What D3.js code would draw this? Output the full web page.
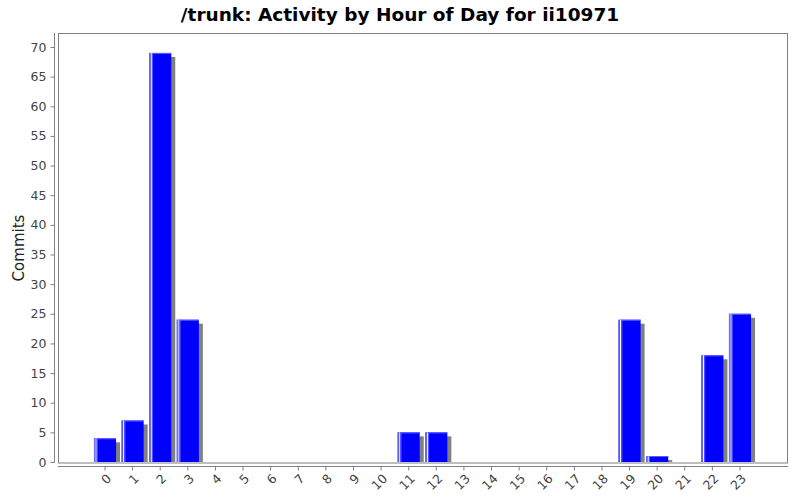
<!DOCTYPE html>
<html><head><meta charset="utf-8">
<script src="https://cdn.jsdelivr.net/npm/d3@7"></script>
<style>body{margin:0;background:#fff;} svg{display:block;}</style>
</head><body>
<svg id="c" width="800" height="500"></svg>
<script>
const hours = d3.range(0, 24).map(String);
const commits = [4, 7, 69, 24, 0, 0, 0, 0, 0, 0, 0, 5, 5, 0, 0, 0, 0, 0, 0, 24, 1, 0, 18, 25];
const yTicks = [0, 5, 10, 15, 20, 25, 30, 35, 40, 45, 50, 55, 60, 65, 70];
const titleText = "/trunk: Activity by Hour of Day for ii10971";
const yLabel = "Commits";

const svg = d3.select("#c");
const font = "DejaVu Sans, sans-serif";
const plot = {l: 58, r: 788, t: 33, b: 462.5};

const x = d3.scaleBand().domain(hours).range([91.2, 753.8]).paddingInner(0.2).paddingOuter(0.1);
const y = d3.scaleLinear().domain([0, 70]).range([462, 47]);

svg.append("text").attr("x", 400).attr("y", 21).attr("text-anchor", "middle")
  .attr("font-family", font).attr("font-weight", "bold").attr("font-size", 18.5).attr("fill", "#000")
  .text(titleText);

// plot frame
svg.append("rect").attr("x", plot.l + 0.5).attr("y", plot.t + 0.5)
  .attr("width", plot.r - plot.l - 1).attr("height", plot.b - plot.t)
  .attr("fill", "#fff").attr("stroke", "#808080").attr("stroke-width", 1);

// bars
const g = svg.append("g");
const data = hours.map((h, i) => ({h, v: commits[i]})).filter(d => d.v > 0);
const bw = x.bandwidth();
g.selectAll("rect.sh").data(data).join("rect").attr("class", "sh")
  .attr("x", d => x(d.h) + 4).attr("y", d => y(d.v) + 4)
  .attr("width", bw).attr("height", d => Math.max(0, y(0) - y(d.v) - 4))
  .attr("fill", "#808080");
g.selectAll("rect.bar").data(data).join("rect").attr("class", "bar")
  .attr("x", d => x(d.h)).attr("y", d => y(d.v))
  .attr("width", bw).attr("height", d => y(0) - y(d.v))
  .attr("fill", "#0000ff");
g.selectAll("rect.hl1").data(data).join("rect").attr("class", "hl1")
  .attr("x", d => x(d.h)).attr("y", d => y(d.v))
  .attr("width", 1.2).attr("height", d => y(0) - y(d.v))
  .attr("fill", "#7070ff");
g.selectAll("rect.hl2").data(data).join("rect").attr("class", "hl2")
  .attr("x", d => x(d.h) + 1.5).attr("y", d => y(d.v))
  .attr("width", 1.2).attr("height", d => y(0) - y(d.v))
  .attr("fill", "#ffffff");
g.selectAll("rect.hl3").data(data).join("rect").attr("class", "hl3")
  .attr("x", d => x(d.h) + 2.7).attr("y", d => y(d.v))
  .attr("width", 1.2).attr("height", d => y(0) - y(d.v))
  .attr("fill", "#5050ff");
g.selectAll("rect.hl4").data(data).join("rect").attr("class", "hl4")
  .attr("x", d => x(d.h) + 2.7).attr("y", d => y(d.v))
  .attr("width", bw - 2.7).attr("height", 1)
  .attr("fill", "#6060ff");

// y axis
const yAxis = d3.axisLeft(y).tickValues(yTicks).tickSize(4).tickPadding(4);
const ya = svg.append("g").attr("transform", "translate(54.5,0)").call(yAxis);
ya.select(".domain").attr("stroke", "#808080").attr("d", `M0,${plot.t}V${plot.b}`);
ya.selectAll(".tick line").attr("stroke", "#808080");
ya.selectAll(".tick text").attr("font-family", font).attr("font-size", 12.5).attr("fill", "#444");

// x axis
const xAxis = d3.axisBottom(x).tickSize(4).tickPadding(2).tickSizeOuter(0);
const xa = svg.append("g").attr("transform", "translate(0,466.5)").call(xAxis);
xa.select(".domain").attr("stroke", "#808080").attr("d", `M${plot.l},0H${plot.r}`);
xa.selectAll(".tick line").attr("stroke", "#808080");
xa.selectAll(".tick text").attr("font-family", font).attr("font-size", 12.5).attr("fill", "#444")
  .attr("text-anchor", "end").attr("dy", null)
  .attr("transform", "translate(7,13) rotate(-45)").attr("y", 0).attr("x", 0);

svg.append("text").attr("transform", "translate(24,248) rotate(-90)").attr("text-anchor", "middle")
  .attr("font-family", font).attr("font-size", 15).attr("fill", "#222").text(yLabel);
</script>
</body></html>
